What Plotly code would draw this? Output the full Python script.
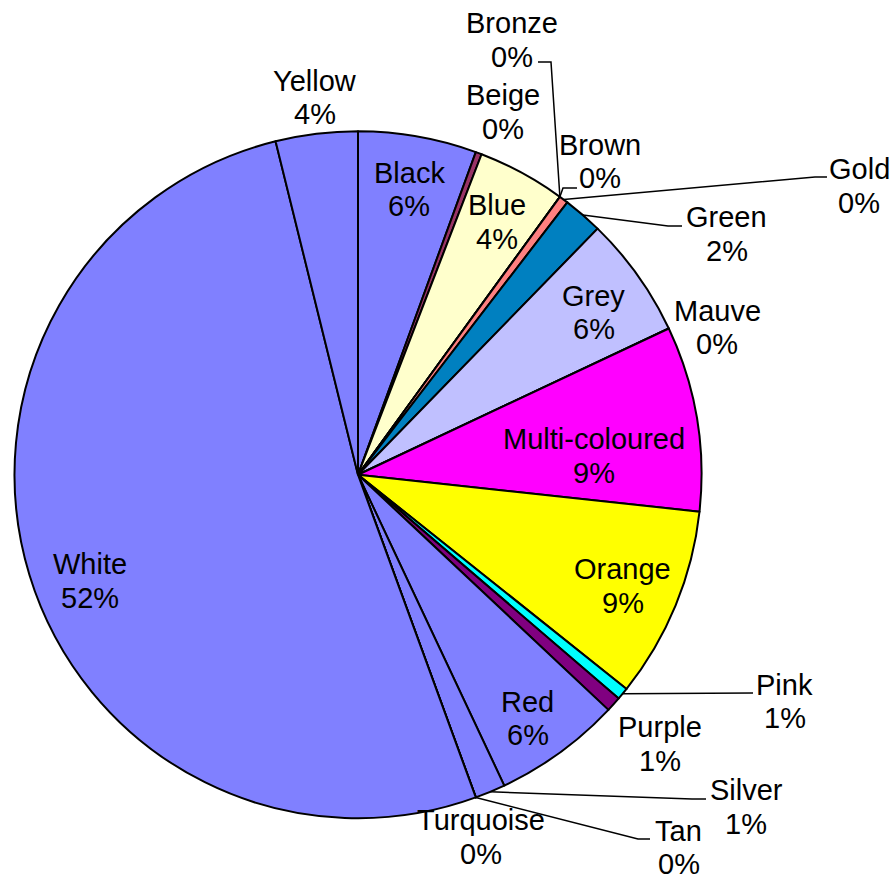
import math
import plotly.graph_objects as go

# ---- data -------------------------------------------------------------
colour_names = ["Black", "Beige", "Blue", "Bronze", "Brown", "Gold", "Green",
                "Grey", "Mauve", "Multi-coloured", "Orange", "Pink", "Purple",
                "Red", "Silver", "Tan", "Turquoise", "White", "Yellow"]
counts = [39, 2, 29, 0, 0, 3, 13, 40, 0, 61, 63, 4, 5, 42, 10, 0, 0, 362, 27]

# ---- styling ----------------------------------------------------------
PERI = "#8080FF"
slice_colours = [PERI, "#993366", "#FFFFCC", "#CCFFFF", "#660066", "#FF8080",
                 "#0080C0", "#C0C0FF", "#000080", "#FF00FF", "#FFFF00",
                 "#00FFFF", "#800080", PERI, PERI, PERI, PERI, PERI, PERI]

W, H = 895, 879
CX, CY, R = 358.0, 474.75, 343.5          # pie centre / radius in pixels
FONT = dict(family="Liberation Sans, Arial, sans-serif", size=29, color="black")
LINE_GAP = 33.5                            # distance between the two label lines
CAP_SHIFT = 0.0                            # vertical nudge of the text baseline

# centre of each two-line data label (pixels)
label_pos = {
    "Black": (409, 189.5), "Beige": (502.5, 112), "Blue": (496.5, 222),
    "Bronze": (511.5, 40), "Brown": (600, 161.5), "Gold": (859, 186),
    "Green": (726.5, 234), "Grey": (593.5, 312.5), "Mauve": (717, 327.5),
    "Multi-coloured": (593.5, 456), "Orange": (622.5, 586),
    "Pink": (784.5, 701.5), "Purple": (660, 744), "Red": (527.5, 718.5),
    "Silver": (746, 807), "Tan": (678.5, 847.5), "Turquoise": (481.5, 837),
    "White": (90, 581), "Yellow": (315, 97.5),
}

# leader lines: elbow points on the label side, the pie end is computed
leader_elbows = {
    "Bronze": [(538, 62), (551, 62)],
    "Brown": [(577, 188), (563, 188)],
    "Gold": [(827, 177), (815, 177)],
    "Green": [(682, 226), (668, 226)],
    "Pink": [(753, 693)],
    "Silver": [(706, 799), (692, 799)],
    "Tan": [(650, 839), (638, 839)],
}


def px(x, y):
    """pixel -> paper coordinates"""
    return x / W, 1 - y / H


total = sum(counts)

fig = go.Figure(go.Pie(
    labels=colour_names, values=counts, sort=False, direction="clockwise",
    rotation=0, textinfo="none", hoverinfo="label+value+percent",
    marker=dict(colors=slice_colours, line=dict(color="black", width=2)),
    domain=dict(x=[(CX - R) / W, (CX + R) / W],
                y=[1 - (CY + R) / H, 1 - (CY - R) / H]),
    showlegend=False,
))

# mid-angle of every slice on the rim (clockwise from 12 o'clock)
rim_point = {}
cum = 0
for name, v in zip(colour_names, counts):
    mid = (cum + v / 2) / total * 2 * math.pi
    rim_point[name] = (CX + R * math.sin(mid), CY - R * math.cos(mid))
    cum += v

annotations = []
for name, v in zip(colour_names, counts):
    pct = f"{int(v * 100 / total + 0.5)}%"
    lx, ly = label_pos[name]
    for text, yy in ((name, ly - LINE_GAP / 2), (pct, ly + LINE_GAP / 2)):
        ax_, ay_ = px(lx, yy + CAP_SHIFT)
        annotations.append(dict(
            x=ax_, y=ay_, xref="paper", yref="paper", text=text,
            showarrow=False, font=FONT, xanchor="center", yanchor="middle"))

shapes = []
for name, elbows in leader_elbows.items():
    pts = list(elbows) + [rim_point[name]]
    path = ""
    for i, (x, y) in enumerate(pts):
        u, w = px(x, y)
        path += ("M" if i == 0 else " L") + f" {u:.5f} {w:.5f}"
    shapes.append(dict(type="path", path=path, xref="paper", yref="paper",
                       line=dict(color="black", width=1.5)))

fig.update_layout(
    width=W, height=H, margin=dict(l=0, r=0, t=0, b=0, pad=0),
    paper_bgcolor="white", plot_bgcolor="white",
    annotations=annotations, shapes=shapes,
)

fig.write_html("out.html")
